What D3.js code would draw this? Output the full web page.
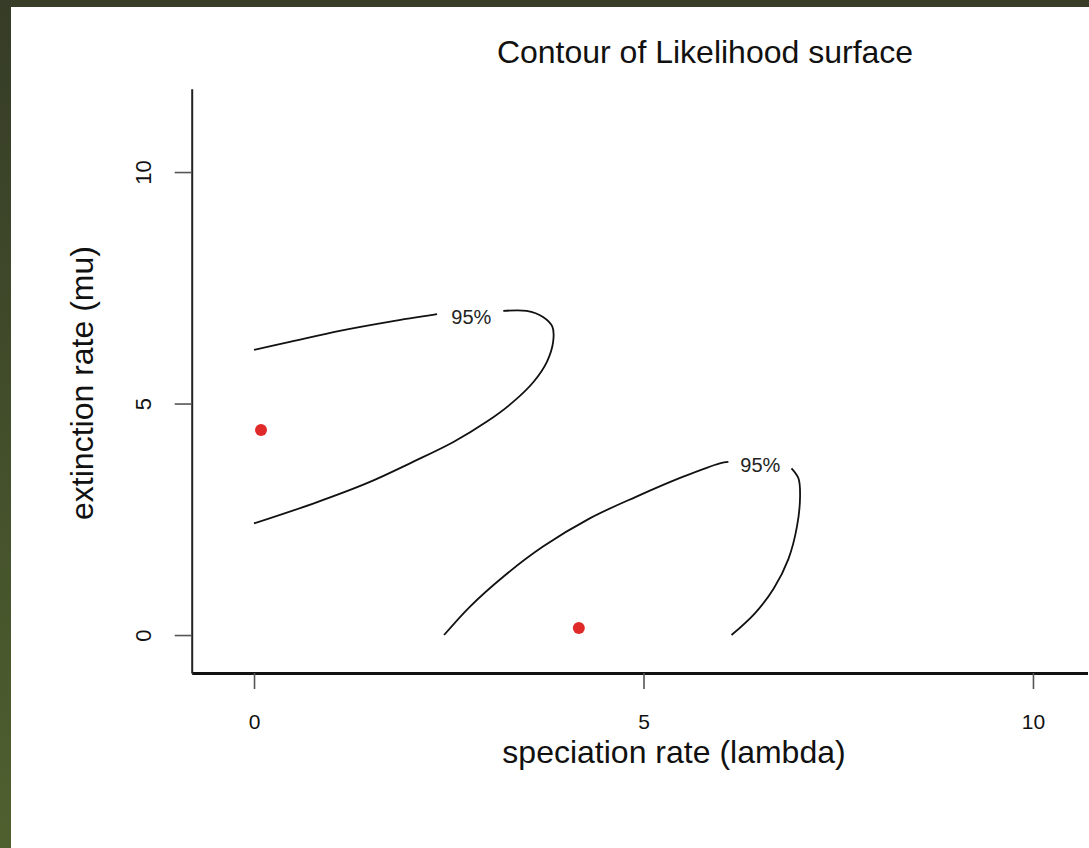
<!DOCTYPE html>
<html>
<head>
<meta charset="utf-8">
<script src="https://cdn.jsdelivr.net/npm/d3@7"></script>
<style>
  html, body { margin: 0; padding: 0; background: #fff; }
  svg { display: block; font-family: "Liberation Sans", Arial, sans-serif; }
</style>
</head>
<body>
<div id="chart"></div>
<script>
// contour of the 95% likelihood region, pieces split where R puts the label
var upperBefore = [[0.0, 6.16], [0.46, 6.33], [1.10, 6.57], [1.75, 6.77], [2.35, 6.93]];
var upperAfter = [[3.20, 7.00], [3.50, 7.00], [3.71, 6.87], [3.83, 6.66], [3.84, 6.33],
                  [3.76, 5.90], [3.59, 5.47], [3.33, 5.04], [2.99, 4.61], [2.56, 4.17],
                  [2.04, 3.74], [1.45, 3.28], [0.76, 2.84], [0.0, 2.41]];
var lowerBefore = [[2.44, 0.0], [2.77, 0.61], [3.20, 1.26], [3.71, 1.91], [4.31, 2.52],
                   [4.91, 2.99], [5.51, 3.42], [5.98, 3.71], [6.09, 3.74]];
var lowerAfter = [[6.90, 3.60], [6.99, 3.38], [7.01, 2.99], [6.97, 2.34], [6.86, 1.64],
                  [6.67, 1.00], [6.43, 0.47], [6.13, 0.0]];
var contourLabels = [[2.79, 6.87, "95%"], [6.50, 3.67, "95%"]];
// maximum likelihood estimates
var mlePoints = [[0.09, 4.43], [4.17, 0.15]];
var xTicks = [0, 5, 10];
var yTicks = [0, 5, 10];

var width = 1089, height = 848;

var svg = d3.select("#chart").append("svg")
    .attr("width", width)
    .attr("height", height);

// dark green frame on the top and left edge
var grad = svg.append("defs").append("linearGradient")
    .attr("id", "frame").attr("x1", 0).attr("y1", 0).attr("x2", 0).attr("y2", 1);
grad.append("stop").attr("offset", "0%").attr("stop-color", "#363c27");
grad.append("stop").attr("offset", "100%").attr("stop-color", "#4f602f");
svg.append("rect").attr("x", 0).attr("y", 0).attr("width", width).attr("height", 7).attr("fill", "#383e28");
svg.append("rect").attr("x", 0).attr("y", 0).attr("width", 11).attr("height", height).attr("fill", "url(#frame)");

var x = d3.scaleLinear().domain([-0.8, 10.7]).range([191.7, 1087.5]);
var y = d3.scaleLinear().domain([-0.82, 11.8]).range([673, 88.7]);

var xAxis = svg.append("g")
    .attr("transform", "translate(0," + y(-0.82) + ")")
    .call(d3.axisBottom(x).tickValues(xTicks).tickSize(16).tickSizeOuter(0).tickPadding(25));
xAxis.select(".domain").attr("stroke", "#111").attr("stroke-width", 3);
xAxis.selectAll(".tick line").attr("stroke", "#555").attr("stroke-width", 1.6);
xAxis.selectAll(".tick text").attr("fill", "#111").style("font-size", "21px");

var yAxis = svg.append("g")
    .attr("transform", "translate(" + x(-0.8) + ",0)")
    .call(d3.axisLeft(y).tickValues(yTicks).tickSize(17).tickSizeOuter(0));
yAxis.select(".domain").attr("stroke", "#222").attr("stroke-width", 2);
yAxis.selectAll(".tick line").attr("stroke", "#555").attr("stroke-width", 1.6);
yAxis.selectAll(".tick text")
    .attr("x", null).attr("dy", "0.35em")
    .attr("text-anchor", "middle")
    .attr("transform", "translate(" + (143 - x(-0.8)) + ",0) rotate(-90)")
    .attr("fill", "#111").style("font-size", "22px");

var line = d3.line()
    .x(function(d) { return x(d[0]); })
    .y(function(d) { return y(d[1]); })
    .curve(d3.curveCatmullRom.alpha(0.5));

svg.selectAll("path.contour")
    .data([upperBefore, upperAfter, lowerBefore, lowerAfter])
    .enter().append("path")
      .attr("class", "contour")
      .attr("d", line)
      .attr("fill", "none")
      .attr("stroke", "#111")
      .attr("stroke-width", 1.8);

svg.selectAll("text.clabel")
    .data(contourLabels)
    .enter().append("text")
      .attr("class", "clabel")
      .attr("x", function(d) { return x(d[0]); })
      .attr("y", function(d) { return y(d[1]); })
      .attr("dy", "0.35em")
      .attr("text-anchor", "middle")
      .style("font-size", "20px")
      .attr("fill", "#222")
      .text(function(d) { return d[2]; });

svg.selectAll("circle.mle")
    .data(mlePoints)
    .enter().append("circle")
      .attr("class", "mle")
      .attr("cx", function(d) { return x(d[0]); })
      .attr("cy", function(d) { return y(d[1]); })
      .attr("r", 6)
      .attr("fill", "#e02a2a");

svg.append("text")
    .attr("x", 705).attr("y", 52).attr("dy", "0.35em")
    .attr("text-anchor", "middle")
    .style("font-size", "32px").attr("fill", "#111")
    .text("Contour of Likelihood surface");

svg.append("text")
    .attr("x", 674).attr("y", 752).attr("dy", "0.35em")
    .attr("text-anchor", "middle")
    .style("font-size", "32px").attr("fill", "#111")
    .text("speciation rate (lambda)");

svg.append("text")
    .attr("transform", "translate(82,383) rotate(-90)")
    .attr("dy", "0.35em")
    .attr("text-anchor", "middle")
    .style("font-size", "32px").attr("fill", "#111")
    .text("extinction rate (mu)");
</script>
</body>
</html>
